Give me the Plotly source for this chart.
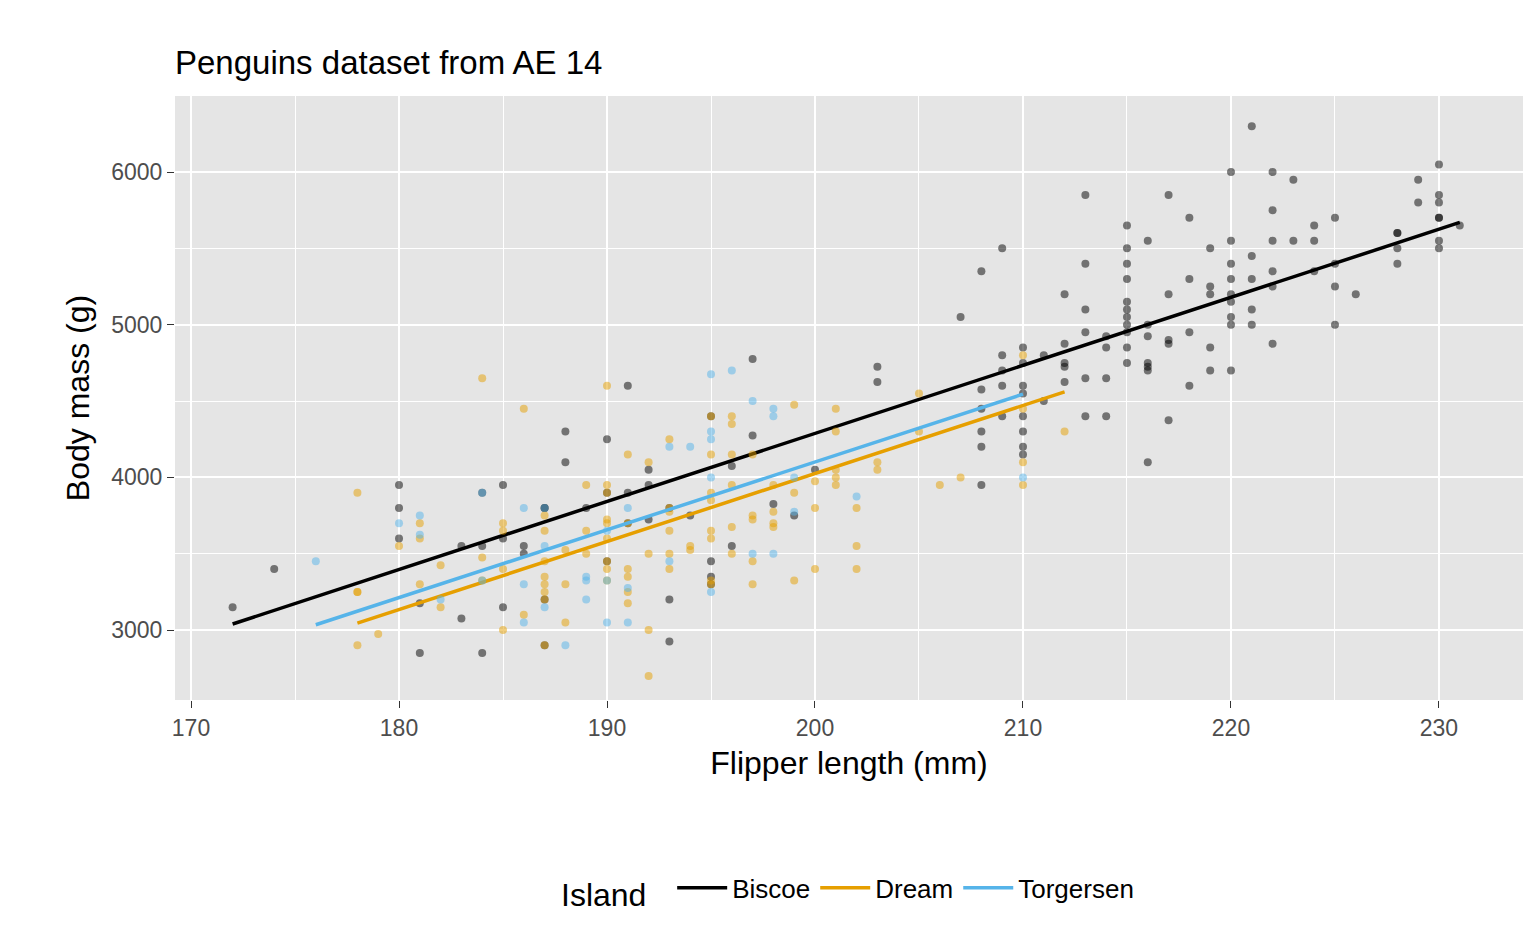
import numpy as np
import plotly.graph_objects as go

biscoe = [(172,3150),(174,3400),(180,3950),(180,3800),(180,3600),(181,2850),(181,3175),(183,3550),(183,3075),(184,3550),(184,2850),(184,3900),(185,3950),(185,3600),(185,3150),(186,3550),(186,3500),(187,3800),(187,3800),(187,3200),(187,2900),(188,4300),(188,4100),(189,3800),(190,4250),(190,3900),(190,3450),(191,4600),(191,3900),(191,3700),(192,3725),(192,4050),(192,3950),(193,3200),(193,2925),(193,3800),(194,3750),(195,4400),(195,3350),(195,3300),(195,3450),(196,3550),(196,4075),(197,4775),(197,4275),(198,3825),(199,3750),(200,4050),(203,4725),(203,4625),(207,5050),(208,5350),(208,4575),(208,4450),(208,4300),(208,4200),(208,3950),(209,5500),(209,4800),(209,4700),(209,4600),(209,4400),(210,4850),(210,4750),(210,4600),(210,4550),(210,4400),(210,4300),(210,4200),(210,4150),(211,4800),(211,4500),(212,5200),(212,4875),(212,4750),(212,4725),(212,4625),(213,5850),(213,5400),(213,5100),(213,4950),(213,4650),(213,4400),(214,4925),(214,4850),(214,4650),(214,4400),(215,5650),(215,5500),(215,5400),(215,5300),(215,5150),(215,5100),(215,5050),(215,5000),(215,4950),(215,4850),(215,4750),(216,5550),(216,5000),(216,4925),(216,4750),(216,4725),(216,4700),(216,4100),(217,5850),(217,5200),(217,4900),(217,4875),(217,4375),(218,5700),(218,5300),(218,4950),(218,4600),(219,5500),(219,5250),(219,5200),(219,4850),(219,4700),(220,6000),(220,5550),(220,5400),(220,5300),(220,5200),(220,5150),(220,5050),(220,5000),(220,4700),(221,6300),(221,5450),(221,5300),(221,5100),(221,5000),(222,6000),(222,5750),(222,5550),(222,5350),(222,5250),(222,4875),(223,5950),(223,5550),(224,5650),(224,5550),(224,5350),(225,5700),(225,5400),(225,5250),(225,5000),(226,5200),(228,5600),(228,5600),(228,5500),(228,5400),(229,5950),(229,5800),(230,6050),(230,5850),(230,5800),(230,5700),(230,5700),(230,5550),(230,5500),(231,5650)]
dream = [(178,3900),(178,3250),(178,3250),(178,2900),(179,2975),(180,3550),(181,3700),(181,3600),(181,3300),(182,3425),(182,3150),(184,4650),(184,3475),(184,3325),(185,3700),(185,3650),(185,3400),(185,3000),(186,4450),(186,3100),(187,3750),(187,3650),(187,3450),(187,3350),(187,3300),(187,3250),(187,3200),(187,2900),(188,3525),(188,3300),(188,3050),(189,3950),(189,3650),(189,3500),(190,4600),(190,3950),(190,3900),(190,3725),(190,3700),(190,3600),(190,3450),(190,3400),(190,3325),(191,4150),(191,3700),(191,3400),(191,3350),(191,3250),(191,3175),(192,4100),(192,3500),(192,3000),(192,2700),(193,4250),(193,3800),(193,3775),(193,3650),(193,3500),(193,3400),(194,3525),(194,3550),(195,4400),(195,4150),(195,3900),(195,3850),(195,3650),(195,3600),(195,3325),(195,3300),(196,4400),(196,4350),(196,4150),(196,3950),(196,3675),(196,3500),(197,4150),(197,3750),(197,3725),(197,3450),(197,3300),(198,3950),(198,3775),(198,3700),(198,3675),(199,4475),(199,3900),(199,3325),(200,3975),(200,3800),(200,3400),(201,4450),(201,4300),(201,4050),(201,4000),(201,3950),(202,3800),(202,3550),(202,3400),(203,4100),(203,4050),(205,4550),(205,4300),(206,3950),(207,4000),(210,4800),(210,4450),(210,4100),(210,3950),(212,4300)]
torgersen = [(176,3450),(180,3700),(181,3750),(181,3625),(182,3200),(184,3900),(184,3325),(186,3800),(186,3300),(186,3050),(187,3800),(187,3550),(187,3150),(188,2900),(189,3350),(189,3325),(189,3200),(190,3650),(190,3325),(190,3050),(191,3800),(191,3275),(191,3050),(193,4200),(193,3450),(194,4200),(195,4675),(195,4300),(195,4250),(195,4000),(195,3250),(196,4700),(197,4500),(197,3500),(198,4450),(198,4400),(198,3500),(199,3775),(199,4000),(202,3875),(210,4000)]

islands = ["Biscoe", "Dream", "Torgersen"]
data = [biscoe, dream, torgersen]
# fitted line end values (g at min and max flipper length)
fit_start = [3040, 3045, 3035]
fit_end = [5670, 4560, 4545]
colors = ["#000000", "#E69F00", "#56B4E9"]

fig = go.Figure()
for name, pts, c, y0, y1 in zip(islands, data, colors, fit_start, fit_end):
    x = np.array([p[0] for p in pts], float)
    y = np.array([p[1] for p in pts], float)
    fig.add_trace(go.Scatter(x=x, y=y, mode="markers", marker=dict(color=c, size=8, opacity=0.5),
                             legendgroup=name, showlegend=False, hoverinfo="skip"))
    xs = [x.min(), x.max()]
    fig.add_trace(go.Scatter(x=xs, y=[y0, y1], mode="lines", line=dict(color=c, width=3.5),
                             legendgroup=name, name=name))

fig.update_layout(
    width=1536, height=949, paper_bgcolor="white", plot_bgcolor="#E5E5E5",
    margin=dict(l=167, r=21, t=88, b=257, autoexpand=False),
    font=dict(family="Liberation Sans, Arial", size=22, color="#4D4D4D"),
    title=dict(text="Penguins dataset from AE 14", x=167/1536, xref="paper", xanchor="left",
               y=0.955, font=dict(size=33, color="black")),
    legend=dict(orientation="h", x=0.5, xanchor="center", y=-0.315, yanchor="middle",
                title=dict(text="Island  ", font=dict(size=32, color="black")),
                font=dict(size=26, color="black"), bgcolor="rgba(0,0,0,0)", itemwidth=50),
)
fig.update_layout(title_x=0.0, title_xref="paper")
fig.update_xaxes(range=[169.23, 234.04], tickvals=list(range(170, 231, 10)), ticks="outside",
                 ticklen=7, tickcolor="#333", gridcolor="white", gridwidth=2.2, zeroline=False,
                 automargin=False,
                 minor=dict(tickvals=list(range(175, 236, 10)), gridcolor="white", gridwidth=1, ticks=""),
                 title=dict(text="Flipper length (mm)", font=dict(size=32, color="black"), standoff=12),
                 tickfont=dict(size=23, color="#4D4D4D"))
fig.update_yaxes(range=[2542, 6498], tickvals=[3000, 4000, 5000, 6000], ticks="outside",
                 ticklen=7, tickcolor="#333", gridcolor="white", gridwidth=2.2, zeroline=False,
                 automargin=False,
                 minor=dict(tickvals=[2500, 3500, 4500, 5500], gridcolor="white", gridwidth=1, ticks=""),
                 title=dict(text="Body mass (g)", font=dict(size=32, color="black"), standoff=12),
                 tickfont=dict(size=23, color="#4D4D4D"))
fig.write_html("out.html")
